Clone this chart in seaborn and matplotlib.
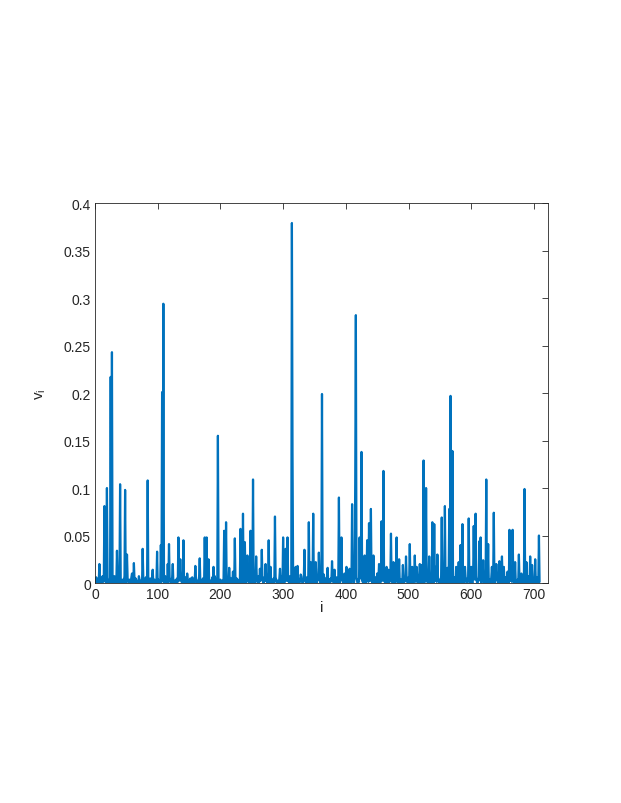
import numpy as np
import pandas as pd
import matplotlib
matplotlib.use("Agg")
import matplotlib.pyplot as plt
import seaborn as sns
from matplotlib.ticker import FuncFormatter

# ── Data ─────────────────────────────────────────────────────────────────────
# low-level background, one digit per sample, in units of 0.0012
baseline_digits = (
    "20513021040061203102501302041006210350120401302600"
    "10420310520013040210630210041205102030410520130210"
    "03120510420061302104203510201304102603120410520031"
    "20410530120402106301204105302103402105120630210410"
    "31020410520130620410310520410230610420130510240310"
    "02510310420610230410520310240610320410530210420610"
    "30410520310620410230510420310620140310520410230610"
    "41020530410210630410520130420610310520410230510420"
    "10520340610210430520310640210530120410620310420510"
    "20430610320510420130620410520310240610320510420310"
    "51020430610210530410620310420510230610410320510420"
    "30610420510230410620310520410230610420310520410630"
    "21040530610320410520130620410310520410230610420510"
    "40210530610420310520410230610320510420130610420510"
    "3041052031"
)

# spikes: sample index and value
spike_idx = [7, 15, 19, 25, 27, 35, 40, 48, 51, 59,
             62, 76, 84, 92, 99, 105, 107, 109, 116,
             118, 124, 133, 136, 141, 147, 160, 167, 175, 178,
             181, 189, 196, 206, 209, 214, 220, 223, 232, 236, 239,
             243, 248, 252, 257, 263, 266, 272, 277, 280, 287, 295, 300,
             304, 307, 314, 315, 320, 323, 328, 334, 341, 344, 348, 352, 357, 362,
             365, 371, 378, 382, 389, 393, 398, 401, 406, 410, 415, 416, 422,
             425, 430, 434, 437, 440, 444, 450, 453, 457, 460, 465, 468, 472, 476, 481,
             485, 491, 496, 502, 506, 510, 513, 518, 521, 524, 528, 533, 538, 543,
             541, 546, 553, 558, 562, 565, 567, 570, 576, 580, 583, 586, 590, 596, 600, 604,
             607, 613, 615, 619, 624, 627, 633, 636, 640, 645, 649, 652, 658, 661, 663,
             666, 670, 676, 680, 685, 688, 694, 697, 702, 708]
spike_val = [0.020, 0.081, 0.100, 0.217, 0.243, 0.034, 0.104, 0.098, 0.030, 0.010,
             0.021, 0.036, 0.108, 0.014, 0.033, 0.040, 0.201, 0.294, 0.020,
             0.041, 0.020, 0.048, 0.025, 0.045, 0.010, 0.018, 0.026, 0.048, 0.048,
             0.025, 0.017, 0.155, 0.055, 0.064, 0.016, 0.012, 0.047, 0.057, 0.073, 0.043,
             0.029, 0.055, 0.109, 0.028, 0.015, 0.035, 0.020, 0.045, 0.017, 0.070, 0.015, 0.048,
             0.036, 0.048, 0.379, 0.136, 0.017, 0.018, 0.009, 0.035, 0.064, 0.022, 0.073, 0.022, 0.032, 0.199,
             0.009, 0.016, 0.023, 0.014, 0.090, 0.048, 0.010, 0.017, 0.015, 0.083, 0.107, 0.282, 0.048,
             0.138, 0.029, 0.045, 0.063, 0.078, 0.029, 0.010, 0.020, 0.065, 0.118, 0.017, 0.014, 0.052, 0.022, 0.048,
             0.025, 0.019, 0.028, 0.041, 0.017, 0.029, 0.017, 0.020, 0.019, 0.129, 0.100, 0.028, 0.064, 0.017,
             0.062, 0.030, 0.069, 0.081, 0.016, 0.078, 0.197, 0.139, 0.017, 0.022, 0.040, 0.062, 0.017, 0.068, 0.017, 0.060,
             0.073, 0.044, 0.048, 0.024, 0.109, 0.041, 0.017, 0.074, 0.020, 0.023, 0.028, 0.017, 0.012, 0.056, 0.017,
             0.056, 0.022, 0.030, 0.010, 0.099, 0.022, 0.028, 0.019, 0.025, 0.050]

v = np.array([int(c) for c in baseline_digits], dtype=float) * 0.0012
for k, val in zip(spike_idx, spike_val):
    v[k] = val
df = pd.DataFrame({"i": np.arange(len(v)), "v": v})

x_ticks = [0, 100, 200, 300, 400, 500, 600, 700]
y_ticks = [0, 0.05, 0.1, 0.15, 0.2, 0.25, 0.3, 0.35, 0.4]

# ── Style: MATLAB-like axes ──────────────────────────────────────────────────
sns.set_style("white")
plt.rcParams["font.family"] = ["Liberation Sans", "DejaVu Sans"]
plt.rcParams["mathtext.fontset"] = "custom"
plt.rcParams["mathtext.rm"] = "Liberation Sans"
plt.rcParams["mathtext.it"] = "Liberation Sans"

fig = plt.figure(figsize=(6.21, 8.04), dpi=100)
ax = fig.add_axes([0.153, 0.2736, 0.729, 0.4726])

sns.lineplot(data=df, x="i", y="v", color="#0072BD", linewidth=1.6, ax=ax)

ax.set_xlim(0, 722)
ax.set_ylim(0, 0.4)
ax.set_xticks(x_ticks)
ax.set_yticks(y_ticks)
ax.yaxis.set_major_formatter(FuncFormatter(lambda y, _: f"{y:g}"))

axis_col = "#262626"
for s in ax.spines.values():
    s.set_color(axis_col)
    s.set_linewidth(0.6)
ax.tick_params(direction="in", length=4, width=0.6, colors=axis_col,
               labelsize=10, top=True, right=True, pad=3)

ax.set_xlabel("i", fontsize=11, labelpad=-1, color=axis_col)
ax.set_ylabel(r"v$_\mathregular{i}$", fontsize=11, labelpad=11, color=axis_col)
ax.grid(False)

fig.savefig("out.png", dpi=100, facecolor="white")
plt.close(fig)
